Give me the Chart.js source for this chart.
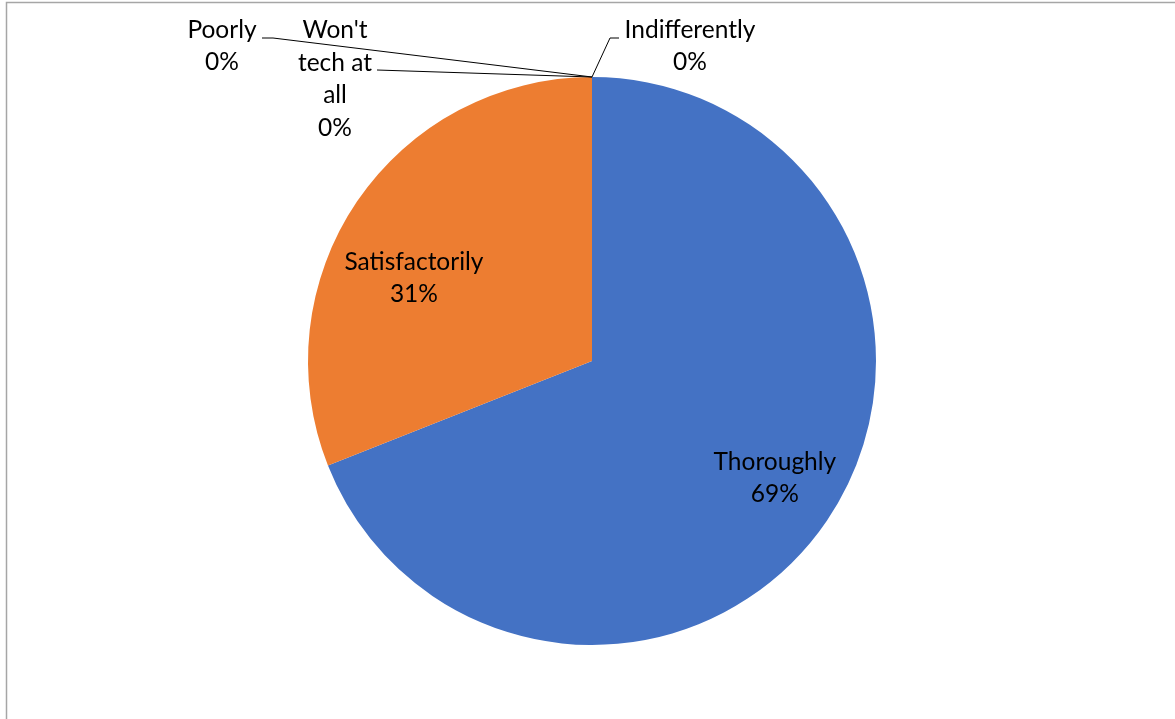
<!DOCTYPE html>
<html>
<head>
<meta charset="utf-8">
<script src="https://cdn.jsdelivr.net/npm/chart.js@4/dist/chart.umd.min.js"></script>
<style>
  body { margin: 0; background: #fff; }
  canvas { display: block; }
</style>
</head>
<body>
<canvas id="chart" width="1175" height="719"></canvas>
<script>
const categories = ['Thoroughly', 'Satisfactorily', 'Indifferently', 'Poorly', "Won't tech at all"];
const shares = [69, 31, 0, 0, 0];
const sliceColors = ['#4472C4', '#ED7D31', '#A5A5A5', '#FFC000', '#5B9BD5'];
// how each category label is broken over lines
const labelLines = [['Thoroughly'], ['Satisfactorily'], ['Indifferently'], ['Poorly'], ["Won't", 'tech at', 'all']];

// where labels go: inside slices (offset from the pie centre, in radii),
// or outside with a leader line, offset from the slice's anchor on the rim
const placement = [
  { inside: [0.644, 0.412] },
  { inside: [-0.627, -0.292] },
  { dx: 98, dy: -31, leader: [[18, -39], [27, -39]] },
  { dx: -370, dy: -31, leader: [[-319, -39], [-330, -39]] },
  { dx: -257, dy: 2, leader: [[-215, -7]] }
];

const FONT = '24.5px Lato, "Open Sans", sans-serif';
const LINE_H = 32.5;

const frame = {
  id: 'frame',
  beforeDraw(chart) {
    const ctx = chart.ctx;
    ctx.save();
    ctx.strokeStyle = '#a6a6a6';
    ctx.lineWidth = 1.5;
    ctx.strokeRect(6.5, 2.5, chart.width + 10, chart.height + 10);
    ctx.restore();
  }
};

const pieLabels = {
  id: 'pieLabels',
  afterDatasetsDraw(chart) {
    const ctx = chart.ctx;
    const meta = chart.getDatasetMeta(0);
    const total = shares.reduce((a, b) => a + b, 0);
    ctx.save();
    ctx.font = FONT;
    ctx.fillStyle = '#000';
    ctx.textAlign = 'center';
    ctx.textBaseline = 'middle';
    ctx.strokeStyle = '#000';
    ctx.lineWidth = 1;
    meta.data.forEach((arc, i) => {
      const p = arc.getProps(['x', 'y', 'startAngle', 'endAngle', 'outerRadius'], true);
      const mid = (p.startAngle + p.endAngle) / 2;
      const lines = labelLines[i].concat([Math.round(shares[i] / total * 100) + '%']);
      const pl = placement[i];
      let cx, cy;
      if (pl.inside) {
        cx = p.x + pl.inside[0] * p.outerRadius;
        cy = p.y + pl.inside[1] * p.outerRadius;
      } else {
        const ax = p.x + Math.cos(mid) * p.outerRadius;
        const ay = p.y + Math.sin(mid) * p.outerRadius;
        cx = ax + pl.dx;
        cy = ay + pl.dy;
        ctx.beginPath();
        ctx.moveTo(ax, ay);
        pl.leader.forEach(([lx, ly]) => ctx.lineTo(ax + lx, ay + ly));
        ctx.stroke();
      }
      const top = cy - (lines.length - 1) * LINE_H / 2;
      lines.forEach((t, k) => ctx.fillText(t, cx, top + k * LINE_H));
    });
    ctx.restore();
  }
};

new Chart(document.getElementById('chart'), {
  type: 'pie',
  data: {
    labels: categories,
    datasets: [{
      data: shares,
      backgroundColor: sliceColors,
      borderWidth: 0
    }]
  },
  options: {
    responsive: false,
    animation: false,
    layout: { padding: { top: 77, bottom: 74, left: 9, right: 0 } },
    plugins: {
      legend: { display: false },
      tooltip: { enabled: false }
    }
  },
  plugins: [frame, pieLabels]
});
</script>
</body>
</html>
